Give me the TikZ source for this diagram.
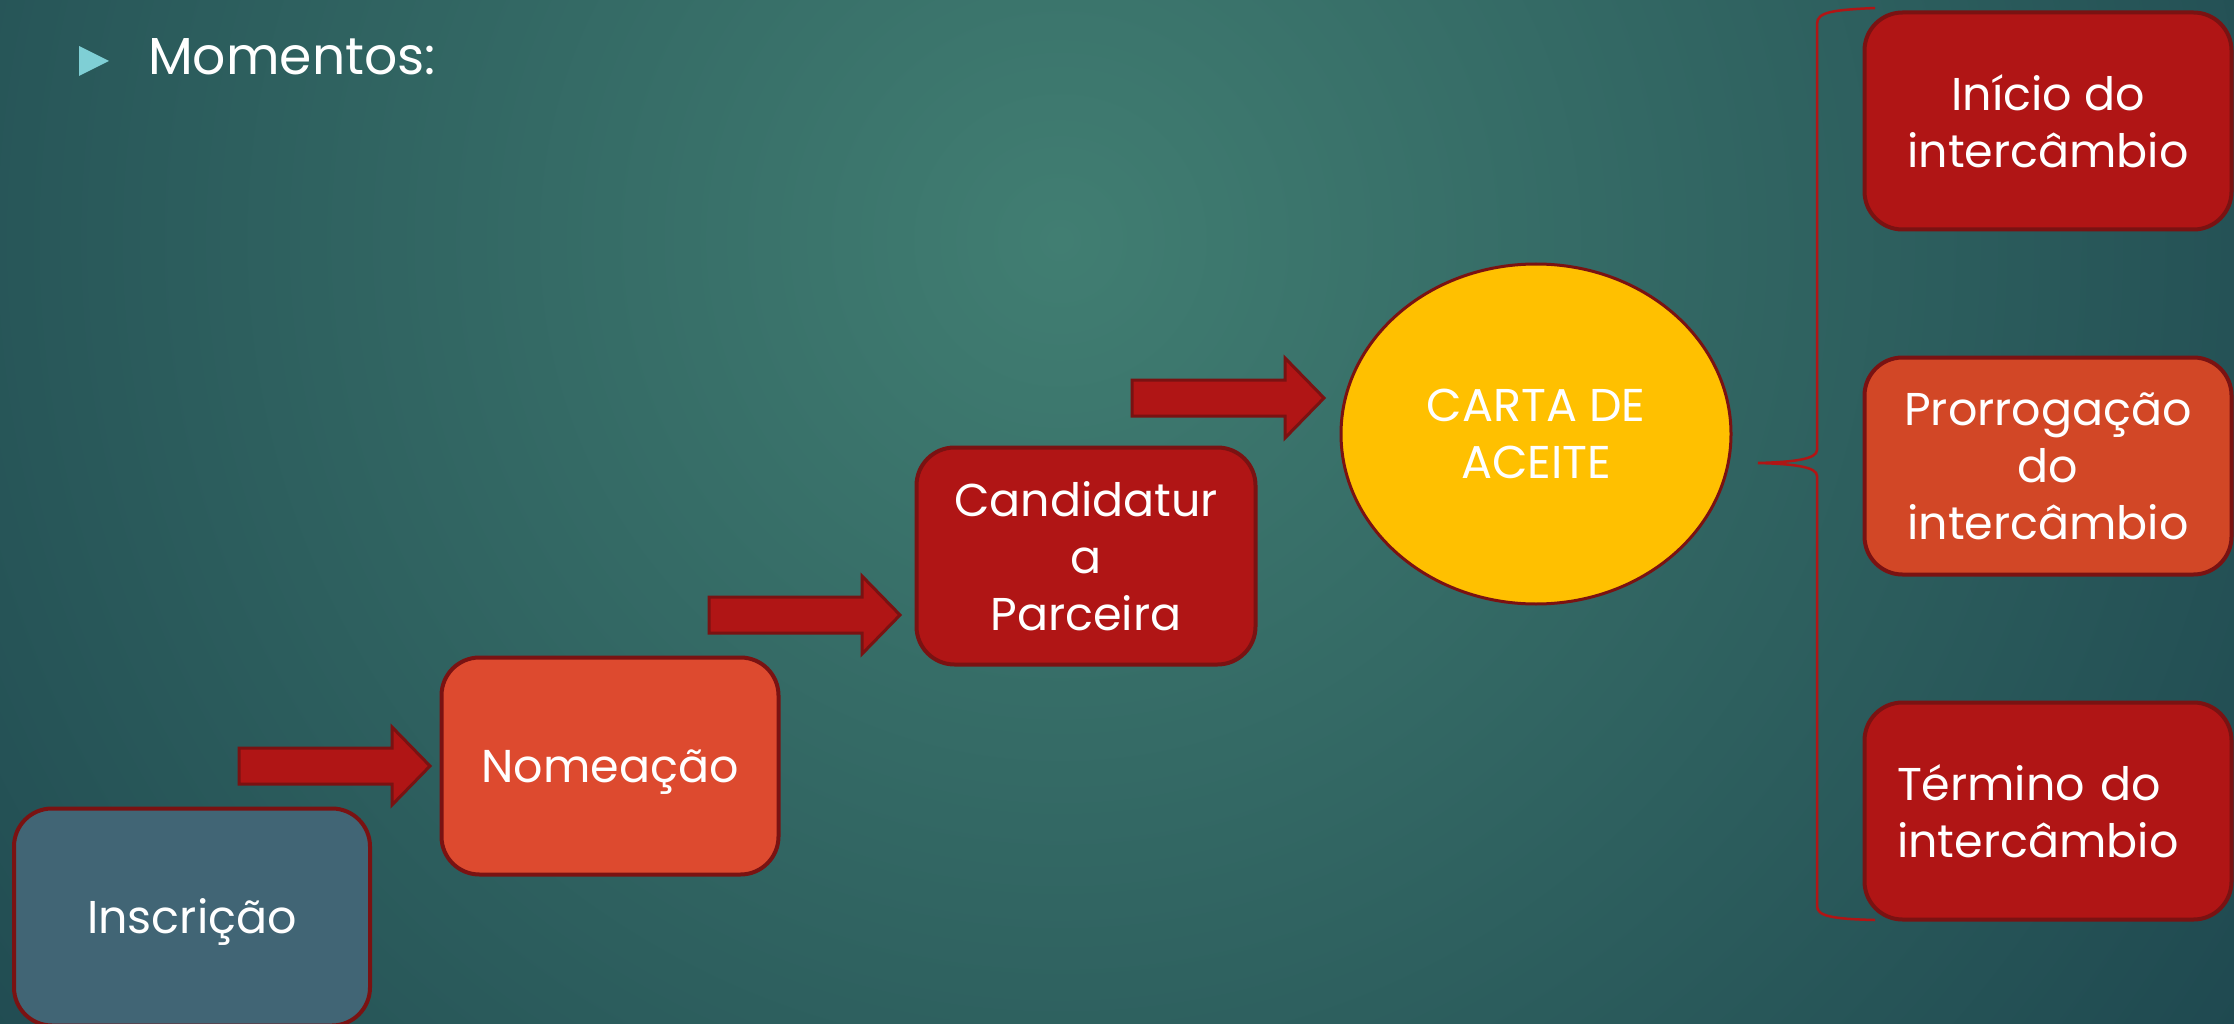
\documentclass[tikz,border=0pt]{standalone}
\usepackage{fontspec}
\setmainfont{Poppins}
\usetikzlibrary{shapes.geometric}
\definecolor{bgin}{HTML}{417E72}
\definecolor{bgout}{HTML}{113342}
\definecolor{dred}{HTML}{B01515}
\definecolor{edgered}{HTML}{7A1212}
\definecolor{orng}{HTML}{DD4A2F}
\definecolor{orngb}{HTML}{D24726}
\definecolor{slate}{HTML}{416575}
\definecolor{gold}{HTML}{FFC000}
\definecolor{tri}{HTML}{7FCFD5}
\begin{document}
\begin{tikzpicture}[x=1pt,y=-1pt,
  box/.style={rectangle, rounded corners=38pt, draw=edgered, line width=4pt,
    text=white, font=\fontsize{46}{57}\selectfont, align=center, inner sep=0pt,
    minimum height=217pt},
  oneline/.style={text height=33pt, text depth=0pt},
  blockarrow/.style={fill=dred, draw=edgered, line width=3pt, line join=miter},
  bracket/.style={draw=dred, line width=2.5pt}]
\useasboundingbox (0,0) rectangle (2234,1024);
% background
\begin{scope}
\clip (0,0) rectangle (2234,1024);
\shade[inner color=bgin, outer color=bgout] (1060,240) circle (2000pt);
\end{scope}
% title
\fill[tri] (79,46) -- (109,61) -- (79,76) -- cycle;
\node[anchor=base west, text=white, font=\fontsize{52}{60}\selectfont, inner sep=0pt] (mom) at (148,75) {Momentos:};
% boxes
\node[box, oneline, fill=slate, minimum width=356pt] (insc) at (192,917) {Inscrição};
\node[box, oneline, fill=orng, minimum width=337pt] (nome) at (610,766) {Nomeação};
\node[box, fill=dred, minimum width=339pt] (cand) at (1086,556) {Candidatur\\a\\Parceira};
\node[ellipse, draw=edgered, line width=3pt, fill=gold, minimum width=390pt, minimum height=340pt,
  inner sep=0pt, text=white, font=\fontsize{46}{57}\selectfont, align=center] (carta) at (1536,434) {CARTA DE\\ACEITE};
\node[box, fill=dred, minimum width=367pt] (inicio) at (2048,121) {Início do\\intercâmbio};
\node[box, fill=orngb, minimum width=367pt] (prorr) at (2048,466) {Prorrogação\\do\\intercâmbio};
\node[box, fill=dred, minimum width=367pt, text width=302pt, align=left] (termino) at (2048,811) {Término do\\\mbox{intercâmbio}};
% block arrows
\draw[blockarrow] (239,748) -- (392,748) -- (392,727) -- (430,766) -- (392,805) -- (392,784) -- (239,784) -- cycle;
\draw[blockarrow] (709,597) -- (862,597) -- (862,576) -- (900,615) -- (862,654) -- (862,633) -- (709,633) -- cycle;
\draw[blockarrow] (1132,380) -- (1285,380) -- (1285,358) -- (1324,398) -- (1285,438) -- (1285,416) -- (1132,416) -- cycle;
% brace
\draw[bracket] (1875,8) .. controls (1832,10) and (1817,12) .. (1817,24) -- (1817,450)
  .. controls (1817,459) and (1795,462) .. (1758,463)
  .. controls (1795,464) and (1817,467) .. (1817,476) -- (1817,906)
  .. controls (1817,916) and (1832,919) .. (1875,920);
\end{tikzpicture}
\end{document}
